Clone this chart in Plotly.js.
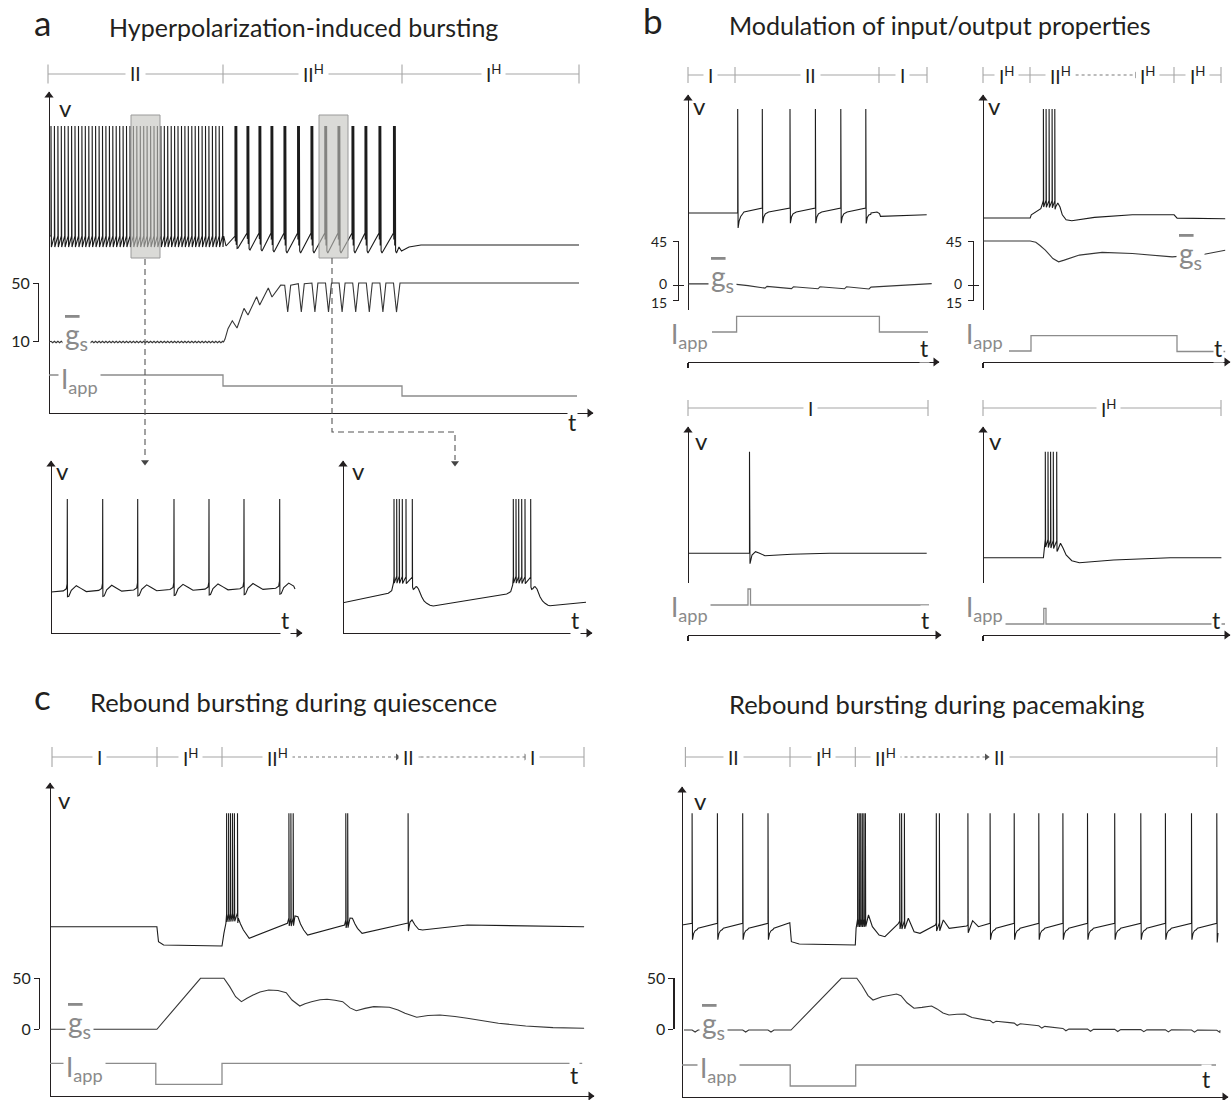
<!DOCTYPE html>
<html>
<head>
<meta charset="utf-8">
<script src="https://cdn.plot.ly/plotly-3.0.1.min.js"></script>
<style>html,body{margin:0;padding:0;background:#fff;} #chart{width:1231px;height:1100px;}</style>
</head>
<body>
<div id="chart"></div>
<script>
// ================= DATA =================
// time: arbitrary units from each panel's origin; V and I_app: arbitrary units; g_s: conductance units

// ---- panel a, main trace ----
const aSpikesII = [2.0,5.4,8.9,12.3,15.7,19.2,22.6,26.0,29.5,32.9,36.3,39.8,43.2,46.6,50.1,53.5,56.9,60.4,63.8,67.2,70.7,74.1,77.5,81.0,84.4,87.8,91.3,94.7,98.1,101.6,105.0,108.4,111.9,115.3,118.7,122.2,125.6,129.0,132.5,135.9,139.3,142.8,146.2,149.6,153.1,156.5,159.9,163.4,166.8,170.2,173.6];
const aBurstSpikes = [186,186.9,187.8,198,198.9,199.8,210,210.9,211.8,222,222.9,223.8,235,235.9,236.8,248.6,249.5,250.4,262,262.9,263.8,275.8,276.7,277.6,289,289.9,290.8,303,303.9,304.8,316,316.9,317.8,330,330.9,331.8,344.5,345.4,346.3];
const aVBaseIIT = [0,174.7];
const aVBaseIIV = [177,177];
const aVBaseT = [174.7,177,186,189,198,201,210,213,222,225,235,238,248.6,251.6,262,265,275.8,278.8,289,292,303,306,316,319,330,333,344.5,347.5,350,352.5,360,372,530];
const aVBaseV = [177,167,177,165,180,163,180,162,180,161,180,160,180,160,180,160,180,160,180,160,180,160,180,160,180,160,180,160,166,162,166,168,168];
const aVPeak = 287;
const aGRippleT = [0,174.6];
const aGRippleV = [10,10];
const aGT = [174.6,176,179,183.3,188,195,199,207.6,210.7,219.3,223,231.7,235.7,238.7,241.7,249.3,252.3,255.3,262.9,265.9,268.9,276.5,279.5,282.5,290.1,293.1,296.1,303.7,306.7,309.7,317.3,320.3,323.3,330.9,333.9,336.9,344.5,347.5,351,530];
const aGV = [10,12,19,24.4,19.5,32.8,28.3,40.7,35.1,46.6,40.5,48.6,48.5,30.3,48.5,49.5,30.3,49.5,50,30.3,50,50,30.3,50,50,30.3,50,50,30.3,50,50,30.3,50,50,30.3,50,50,30.3,50,50];
const aIappT = [0,174,353,528];
const aIappV = [38,27,17];
const aRegimeBounds = [-1,174,353,530];
const aRegimeLabelT = [86,264,444.5];
const aRegimeLabels = ['II','II<sup>H</sup>','I<sup>H</sup>'];

// ---- panel a, zoomed insets ----
const alSpikes = [16.3,51.7,86.7,123,158,193,228.7];
const alBaseT = [0,244];
const alBaseV = [41,44];
const alPeak = 134;
const arSpikes = [51,53.7,56.3,59.3,63,69.3,170.3,173,175.7,178.7,182,187.7];
const arBaseT = [0,45.3,48.7,50.5,51,69.3,70.3,71.5,72.5,73.7,75.5,78.7,81,83.7,87,90.3,163.7,167.7,169.7,170.3,187.7,188.7,190,191,192,194,197,199.5,202,205,207,243];
const arBaseV = [30.3,39.7,42.3,50,57,56,43.7,44.5,46,46.3,44,36.3,32,29.7,27.8,27,39,41.3,48,57,56,43.7,44.5,46,46.3,44,36.3,32,29.7,27.8,27.3,30.7];
const arPeak = 134;

// ---- panel b ----
const b1Spikes = [49.7,74.3,102,127.4,152.8,177.8];
const b1VBaseT = [0,49.7,56,74.3,80.6,102,108.3,127.4,133.7,152.8,159.1,177.8,183,189,191.5,192.5,238.7];
const b1VBaseV = [149,149,150,154,150,154,150,154,150,154,150,154,149,150,148.5,145.6,147.2];
const b1GT = [0,44,60,77,79,103.5,105.5,130,132,156.5,158.5,181,183,200,243.7];
const b1GV = [1.8,1.8,0,-2.5,-0.8,-3,-1.2,-3.2,-1.2,-3.2,-1.2,-3.4,-1.5,-0.5,2];
const b1IappT = [24,48.6,191.4,240];
const b1IappV = [30,45.6,30];
const b1RegimeBounds = [0,47,191,239];
const b1RegimeLabelT = [22.8,122.5,214.5];
const b1RegimeLabels = ['I','II','I'];

const b2Spikes = [60.4,63.1,66.1,69.1,71.8];
const b2VBaseT = [0,47.2,48.3,57.8,59.7,60.4,71.8,72.9,74.8,77,79.3,83.1,88.8,111.5,149.4,191.1,194.1,242.2];
const b2VBaseV = [144,144,147.2,153.3,159,162,161,155.6,159,155,147.2,142.2,141.2,144.6,147.2,147.2,143.9,143.2];
const b2GT = [0,47.2,52.8,57,62.3,69.9,75.6,81.2,96.4,119.1,149.4,189.2,221.4,242.2];
const b2GV = [45,45,43.7,40.5,35.9,27.3,24,25.7,30.8,33.5,32.4,29,31.6,35.6];
const b2IappT = [26,48,194,242.2];
const b2IappV = [11,26.4,10.5];
const b2RegimeBounds = [0,47,191,238];
const b2RegimeLabelT = [24,77.5,164.6,214.6];
const b2RegimeLabels = ['I<sup>H</sup>','II<sup>H</sup>','I<sup>H</sup>','I<sup>H</sup>'];
const b2RegimeDotted = [[92.6,155]];

const b3Spikes = [61.5];
const b3VBaseT = [0,61.5,64,67.5,71,77,103.5,141.4,238.7];
const b3VBaseV = [81.7,81.7,80,83.3,82,79.3,80.7,81.7,81.7];
const b3IappT = [20,60,62.5,241];
const b3IappV = [30,46,30];
const b3RegimeBounds = [0,240];
const b3RegimeLabelT = [122.5];
const b3RegimeLabels = ['I'];

const b4Spikes = [62.3,65,67.6,70.3,73.7];
const b4VBaseT = [0,60.4,61.5,62.3,73.7,74.8,77.5,80,83.1,88.8,96.4,130.5,187.3,238.4];
const b4VBaseV = [77.3,77.3,88,96,94,85,91.7,87,80,74.3,72.3,75,77.3,77.3];
const b4IappT = [20,60.8,63,242];
const b4IappV = [11,26.7,11];
const b4RegimeBounds = [0,238];
const b4RegimeLabelT = [125.6];
const b4RegimeLabels = ['I<sup>H</sup>'];
const bTopPeak = 253;
const bBottomPeak = 183.3;

// ---- panel c ----
const c1Spikes = [176.6,178.6,180.5,182.5,184.4,187.5,238.9,240.9,243.2,295.8,297.7,358.1];
const c1VBaseT = [0,106.9,108.5,113.6,172,173.9,175.9,176.6,187.5,188.3,190.5,193.4,199.2,237.4,238.9,243.2,245,247.9,250.5,253.7,257.6,294.6,295.8,297.7,300,302.4,305,307.5,312.1,356.9,358.1,360,362,365,368.6,372.5,417.3,534.1];
const c1VBaseV = [169.3,169.3,154.3,151,150,162.7,172.7,182,183,177.7,172,166,157.7,172.7,178,178,180,179.3,172,166,161,171,176,176,178,177.7,172,167.7,162.7,172.7,172.7,174,176,171,166.7,166,171,169.3];
const c1GT = [0,106.9,150.5,173.9,179.7,185.6,191.4,197,203.1,210,218.7,228,236.2,242,249.8,255,261.5,270,277.1,285,292.7,300,306.3,315,323.8,339.4,348,355,366.7,378,390,405,417.3,448.4,475.7,503,534.1];
const c1GV = [0,0,50,50,41.8,32,27.1,30.5,33.6,36.5,38.5,38,35.9,28.7,22.8,25,27.1,29,29.4,28.5,27.1,21,18.2,20.5,22.2,21.6,19,15.7,11.8,13.5,14,12.5,10.8,5.9,3.3,1.6,1];
const c1IappT = [0,105.8,172,532.2];
const c1IappV = [32.7,11.7,32.7];
const c1RegimeBounds = [2,107,172,534];
const c1RegimeLabelT = [49.3,140.2,227,358.6,482.7];
const c1RegimeLabels = ['I','I<sup>H</sup>','II<sup>H</sup>','II','I'];
const c1RegimeDotted = [[242,349],[370.5,477.6]];
const c1Peak = 282.7;

const c2PaceSpikes = [10.1,35.4,60.7,86,308.1,332.2,356.8,380.9,405.5,432.7,458.8,483.4,509.5,534.8];
const c2BurstSpikes = [175.6,177.2,178.7,180.3,181.9,183.4,217.7,219.6,222.4,254.3,257.4,285.9];
const c2VBaseT = [0,10.1,16,35.4,41.3,60.7,66.6,86,91.9,107.8,109.4,117.2,173.3,174.1,175.6,183.4,186.5,190.4,197.1,202.9,216.5,217.7,222.4,226.3,232.1,238,253.5,254.3,257.4,261.3,267.2,284.7,285.9,290.6,296.4,308.1,314,332.2,338.1,356.8,362.7,380.9,386.8,405.5,411.4,432.7,438.6,458.8,464.7,483.4,489.3,509.5,515.4,534.8,536];
const c2VBaseV = [172,173.7,168.7,173.7,168.7,173.7,168.7,173.7,168.7,174.3,155.3,153,152,168.7,178,178,182,170.3,162,160.3,173.7,176,176,178.7,165.3,163.7,172,174,174,177,168.7,171,172,176.3,170.3,173.7,168.7,173.7,168.7,173.7,168.7,173.7,168.7,173.7,168.7,173.7,168.7,173.7,168.7,173.7,168.7,173.7,168.7,173.7,164];
const c2GT = [2,109,159.3,174.8,180,186,191,200,214.6,219,225,232,240,249.6,255,261,267,275,282.8,290,304,327.6,358.7,386,538];
const c2GV = [-0.7,-0.7,50,50,43,33,28.7,32,34.6,33,26,20.6,21.5,22.8,20,16,14,14.8,15,11.5,9,6.5,3.3,0.3,-1];
const c2IappT = [0,108.2,173.7,534];
const c2IappV = [32,11,32];
const c2RegimeBounds = [3.4,108,173.3,534.8];
const c2RegimeLabelT = [51.8,141.5,203,317.8];
const c2RegimeLabels = ['II','I<sup>H</sup>','II<sup>H</sup>','II'];
const c2RegimeDotted = [[216.5,306]];
const c2Peak = 283.7;

// ---- spike waveform shapes (offset in time, offset from baseline; 'P' = spike peak) ----
const shapeDense = [[0,0],[0,'P'],[0.4,-11]];
const shapeBurstA = [[0,0],[0,'P'],[0.3,-4]];
const shapeInsetL = [[-4,1],[-1,3],[-0.2,8],[0,'P'],[0.2,-5],[1.5,-4.5],[4,1.5],[9,6],[14,3],[19,0]];
const shapeBurst7 = [[0,0],[0,'P'],[0.25,-7]];
const shapePace = [[0,0],[0,'P'],[0.4,-15],[1.5,-8],[3,-4],[5,-1.5]];
const shapePaceC = [[0,0],[0,'P'],[0.4,-16],[1.5,-9],[3,-5],[5,-2]];
const shapeSingleB = [[0,0],[0,'P'],[0.5,-10]];
const shapeBurst8 = [[0,0],[0,'P'],[0.3,-8]];
const shapeGRippleA = [[0,0.5],[1.7,-0.5]];
const shapeGRippleC = [[0,0],[3,-2],[6,0]];

// ================= HELPERS =================
const W = 1231, H = 1100;
const fx = p => p / W, fy = p => 1 - p / H;
const AX = '#231f20', VC = '#1c1c1c', GCOL = '#363636', ICOL = '#8c8c8c', BARC = '#a6a6a6', LBL = '#8a8a8a';
const FONT = 'Lato, "Open Sans", sans-serif';

function interp(bt, bv, t) {
  const n = bt.length;
  if (t <= bt[0]) return bv[0];
  if (t >= bt[n - 1]) return bv[n - 1];
  for (let i = 1; i < n; i++) {
    if (t <= bt[i]) { const f = (t - bt[i - 1]) / (bt[i] - bt[i - 1]); return bv[i - 1] + f * (bv[i] - bv[i - 1]); }
  }
  return bv[n - 1];
}
function buildTrace(bt, bv, groups, peak) {
  const t0 = bt[0], t1 = bt[bt.length - 1];
  const pts = [], wins = [];
  groups.forEach(([times, tpl]) => {
    const dmin = tpl[0][0], dmax = tpl[tpl.length - 1][0];
    times.forEach(s => {
      wins.push([s + dmin, s + dmax]);
      tpl.forEach(([dt, dv], k) => {
        const t = s + dt;
        if (t < t0 || t > t1) return;
        pts.push([t, dv === 'P' ? peak : interp(bt, bv, t) + dv, s, k]);
      });
    });
  });
  bt.forEach((t, i) => {
    if (i > 0 && i < bt.length - 1 && wins.some(w => t >= w[0] && t <= w[1])) return;
    pts.push([t, bv[i], t, -1]);
  });
  pts.sort((a, b) => (a[0] - b[0]) || (a[2] - b[2]) || (a[3] - b[3]));
  return { x: pts.map(p => p[0]), y: pts.map(p => p[1]) };
}
function concatTr(a, b) { return { x: a.x.concat(b.x), y: a.y.concat(b.y) }; }
function steps(ts, vs) {
  const x = [], y = [];
  for (let i = 0; i < vs.length; i++) { x.push(ts[i], ts[i + 1]); y.push(vs[i], vs[i]); }
  return { x, y };
}

const layout = {
  width: W, height: H, margin: { l: 0, r: 0, t: 0, b: 0 },
  paper_bgcolor: '#ffffff', plot_bgcolor: 'rgba(0,0,0,0)', showlegend: false, hovermode: false,
  font: { family: FONT, color: AX, size: 14 }, annotations: [], shapes: []
};
const data = [];
let nX = 0, nY = 0;
const axBase = { showgrid: false, zeroline: false, showticklabels: false, ticks: '', fixedrange: true };
function addX(cfg) { nX++; const k = nX === 1 ? 'xaxis' : 'xaxis' + nX; layout[k] = Object.assign({}, axBase, cfg); return nX === 1 ? 'x' : 'x' + nX; }
function addY(cfg) { nY++; const k = nY === 1 ? 'yaxis' : 'yaxis' + nY; layout[k] = Object.assign({}, axBase, cfg); return nY === 1 ? 'y' : 'y' + nY; }
function addLine(tr, xa, ya, color, width, dash) {
  data.push({ type: 'scatter', mode: 'lines', x: tr.x, y: tr.y, xaxis: xa, yaxis: ya,
    line: { color: color, width: width, dash: dash || 'solid', simplify: false }, hoverinfo: 'skip', showlegend: false });
}
function dummy(xa, ya) { data.push({ type: 'scatter', mode: 'lines', x: [0], y: [null], xaxis: xa, yaxis: ya, hoverinfo: 'skip', showlegend: false }); }
function tri(xa, ya, x, y, symbol, size, color) {
  data.push({ type: 'scatter', mode: 'markers', x: [x], y: [y], xaxis: xa, yaxis: ya, cliponaxis: false,
    marker: { symbol: symbol, size: size, color: color || AX, line: { width: 0 } }, hoverinfo: 'skip', showlegend: false });
}
function label(px, py, text, size, color, extra) {
  layout.annotations.push(Object.assign({ xref: 'paper', yref: 'paper', x: fx(px), y: fy(py), text: text, showarrow: false,
    font: { family: FONT, size: size, color: color || AX }, xanchor: 'center', yanchor: 'middle' }, extra || {}));
}

function makePanel(g) {
  const P = { g: g };
  const xc = { domain: [fx(g.x0), fx(g.xTip)], range: [0, g.xTip - g.x0], anchor: 'free', position: fy(g.bottom),
    showline: true, linecolor: AX, linewidth: 1.2 };
  if (g.leftTick) Object.assign(xc, { ticks: 'outside', tickmode: 'array', tickvals: [0], ticklen: 5, tickwidth: 1.2, tickcolor: AX });
  P.x = addX(xc);
  const wl = Math.max(0, g.x0 - 20), wr = Math.min(W, g.xTip + 5);
  P.xw = addX({ domain: [fx(wl), fx(wr)], range: [wl - g.x0, wr - g.x0], anchor: 'free', position: fy(g.bottom), visible: false });
  P.v = addY({ domain: [fy(g.vBottom), fy(g.vTop)], range: [g.bottom - g.vBottom, g.bottom - g.vTop], anchor: 'free',
    position: fx(g.x0), showline: true, linecolor: AX, linewidth: 1.2 });
  if (g.iTop) P.i = addY({ domain: [fy(g.bottom), fy(g.iTop)], range: [0, g.bottom - g.iTop], anchor: 'free', position: fx(g.x0), visible: false });
  // arrow heads at the axis ends
  tri(P.x, P.v, 0, g.bottom - g.vTop - 3.5, 'triangle-up', 8);
  tri(P.x, P.i || P.v, g.xTip - g.x0 - 3.5, 0, 'triangle-right', 8);
  if (g.bracket) {
    const b = g.bracket;
    const k = (b.py[0] - b.py[1]) / (b.v[1] - b.v[0]);
    const vAt = py => b.v[0] + (b.py[0] - py) / k;
    P.gAx = addY({ domain: [fy(g.gDom[0]), fy(g.gDom[1])], range: [vAt(g.gDom[0]), vAt(g.gDom[1])], anchor: 'free', position: fx(g.x0), visible: false });
    const eps = (b.v[1] - b.v[0]) * 0.002;
    const common = { domain: [fy(b.py[0]), fy(b.py[1])], range: [b.v[0] - eps, b.v[1] + eps], anchor: 'free', position: fx(b.px),
      tickmode: 'array', tickvals: b.ticks, ticklen: 5, tickwidth: 1.2, tickcolor: AX };
    const own = !b.textPos;
    P.br = addY(Object.assign({}, common, { showline: true, linecolor: AX, linewidth: 1.2, ticks: 'outside', ticktext: b.text,
      showticklabels: own, tickfont: { family: FONT, size: b.font, color: AX } }));
    P.br2 = addY(Object.assign({}, common, { ticks: 'inside' }));
    dummy(P.x, P.br); dummy(P.x, P.br2);
    if (!own) {
      // closely spaced scale labels are set as separate texts so they do not collide
      b.text.forEach((t, i) => label(b.px - 9, b.textPos[i], t, b.font, AX, { xanchor: 'right' }));
    }
  }
  if (g.bar) P.bar = addY({ domain: [fy(g.bar + 13), fy(g.bar - 13)], range: [-13, 13], anchor: 'free', position: fx(g.x0), visible: false });
  return P;
}

function drawRegime(P, bounds, labelT, labels, dotted) {
  const h = P.g.tickH;
  const s = bounds[0], e = bounds[bounds.length - 1];
  let pieces = [[s, e]];
  (dotted || []).forEach(([d0, d1]) => {
    pieces = pieces.flatMap(([p0, p1]) => (d1 <= p0 || d0 >= p1) ? [[p0, p1]] : [[p0, d0], [d1, p1]].filter(q => q[1] > q[0]));
  });
  const sx = [], sy = [];
  pieces.forEach(([p0, p1]) => { sx.push(p0, p1, null); sy.push(0, 0, null); });
  bounds.forEach(b => { sx.push(b, b, null); sy.push(-h, h, null); });
  addLine({ x: sx, y: sy }, P.xw, P.bar, BARC, 1.1);
  if (dotted && dotted.length) {
    const dx = [], dy = [];
    dotted.forEach(([d0, d1]) => { dx.push(d0, d1 - 2, null); dy.push(0, 0, null); });
    addLine({ x: dx, y: dy }, P.xw, P.bar, '#7a7a7a', 1.1, 'dot');
    dotted.forEach(([d0, d1]) => tri(P.xw, P.bar, d1 - 1.5, 0, 'triangle-right', 6, '#555'));
  }
  labels.forEach((t, i) => {
    layout.annotations.push({ xref: P.xw, yref: P.bar, x: labelT[i], y: 0, text: t, showarrow: false, bgcolor: '#ffffff', borderpad: 4,
      font: { family: FONT, size: 19, color: AX }, xanchor: 'center', yanchor: 'middle' });
  });
}

// ================= PANELS =================
const GEOM = {
  A:  { x0: 49, xTip: 593, bottom: 413, vTop: 92, vBottom: 413, iTop: 355, gDom: [365, 270],
        bracket: { px: 38, v: [10, 50], py: [342, 283], ticks: [10, 50], text: ['10', '50'], font: 16 }, bar: 74, tickH: 9.5 },
  AL: { x0: 51, xTip: 302, bottom: 633, vTop: 461, vBottom: 633 },
  AR: { x0: 343, xTip: 592, bottom: 633, vTop: 461, vBottom: 633 },
  B1: { x0: 688, xTip: 939, bottom: 362, vTop: 95, vBottom: 310, iTop: 312, gDom: [309, 220],
        bracket: { px: 678, v: [-15, 45], py: [300.5, 241], ticks: [-15, 0, 45], text: ['15', '0', '45'], font: 14, textPos: [303, 283.5, 241] },
        bar: 75, tickH: 8, leftTick: true },
  B2: { x0: 983, xTip: 1230, bottom: 362, vTop: 95, vBottom: 310, iTop: 312, gDom: [309, 220],
        bracket: { px: 973, v: [-15, 45], py: [300.5, 241], ticks: [-15, 0, 45], text: ['15', '0', '45'], font: 14, textPos: [303, 283.5, 241] },
        bar: 75, tickH: 8, leftTick: true },
  B3: { x0: 688, xTip: 941, bottom: 635, vTop: 427, vBottom: 583, iTop: 585, bar: 408, tickH: 8, leftTick: true },
  B4: { x0: 983, xTip: 1230, bottom: 635, vTop: 427, vBottom: 583, iTop: 585, bar: 408, tickH: 8, leftTick: true },
  C1: { x0: 50, xTip: 594, bottom: 1096, vTop: 783, vBottom: 1096, iTop: 1040, gDom: [1045, 960],
        bracket: { px: 39, v: [0, 50], py: [1029.3, 978.3], ticks: [0, 50], text: ['0', '50'], font: 16 }, bar: 757, tickH: 10 },
  C2: { x0: 682, xTip: 1228, bottom: 1097, vTop: 787, vBottom: 1097, iTop: 1040, gDom: [1045, 960],
        bracket: { px: 673.4, v: [0, 50], py: [1029.3, 978.3], ticks: [0, 50], text: ['0', '50'], font: 16 }, bar: 757, tickH: 10 }
};

// Panel a main
const A = makePanel(GEOM.A);
addLine(concatTr(buildTrace(aVBaseIIT, aVBaseIIV, [[aSpikesII, shapeDense]], aVPeak),
                 buildTrace(aVBaseT, aVBaseV, [[aBurstSpikes, shapeBurstA]], aVPeak)), A.x, A.v, VC, 1.1);
addLine(concatTr(buildTrace(aGRippleT, aGRippleV, [[aSpikesII, shapeGRippleA]], 0),
                 buildTrace(aGT, aGV, [], 0)), A.x, A.gAx, GCOL, 1.1);
addLine(steps(aIappT, aIappV), A.x, A.i, ICOL, 1.3);
drawRegime(A, aRegimeBounds, aRegimeLabelT, aRegimeLabels);

// insets
const AL = makePanel(GEOM.AL);
addLine(buildTrace(alBaseT, alBaseV, [[alSpikes, shapeInsetL]], alPeak), AL.x, AL.v, VC, 1.1);
const AR = makePanel(GEOM.AR);
addLine(buildTrace(arBaseT, arBaseV, [[arSpikes, shapeBurst7]], arPeak), AR.x, AR.v, VC, 1.1);

// Panel b
const B1 = makePanel(GEOM.B1);
addLine(buildTrace(b1VBaseT, b1VBaseV, [[b1Spikes, shapePace]], bTopPeak), B1.x, B1.v, VC, 1.1);
addLine(buildTrace(b1GT, b1GV, [], 0), B1.x, B1.gAx, GCOL, 1.1);
addLine(steps(b1IappT, b1IappV), B1.x, B1.i, ICOL, 1.3);
drawRegime(B1, b1RegimeBounds, b1RegimeLabelT, b1RegimeLabels);

const B2 = makePanel(GEOM.B2);
addLine(buildTrace(b2VBaseT, b2VBaseV, [[b2Spikes, shapeBurst7]], bTopPeak), B2.x, B2.v, VC, 1.1);
addLine(buildTrace(b2GT, b2GV, [], 0), B2.x, B2.gAx, GCOL, 1.1);
addLine(steps(b2IappT, b2IappV), B2.x, B2.i, ICOL, 1.3);
drawRegime(B2, b2RegimeBounds, b2RegimeLabelT, b2RegimeLabels, b2RegimeDotted);

const B3 = makePanel(GEOM.B3);
addLine(buildTrace(b3VBaseT, b3VBaseV, [[b3Spikes, shapeSingleB]], bBottomPeak), B3.x, B3.v, VC, 1.1);
addLine(steps(b3IappT, b3IappV), B3.x, B3.i, ICOL, 1.3);
drawRegime(B3, b3RegimeBounds, b3RegimeLabelT, b3RegimeLabels);

const B4 = makePanel(GEOM.B4);
addLine(buildTrace(b4VBaseT, b4VBaseV, [[b4Spikes, shapeBurst8]], bBottomPeak), B4.x, B4.v, VC, 1.1);
addLine(steps(b4IappT, b4IappV), B4.x, B4.i, ICOL, 1.3);
drawRegime(B4, b4RegimeBounds, b4RegimeLabelT, b4RegimeLabels);

// Panel c
const C1 = makePanel(GEOM.C1);
addLine(buildTrace(c1VBaseT, c1VBaseV, [[c1Spikes, shapeBurst8]], c1Peak), C1.x, C1.v, VC, 1.1);
addLine(buildTrace(c1GT, c1GV, [], 0), C1.x, C1.gAx, GCOL, 1.1);
addLine(steps(c1IappT, c1IappV), C1.x, C1.i, ICOL, 1.3);
drawRegime(C1, c1RegimeBounds, c1RegimeLabelT, c1RegimeLabels, c1RegimeDotted);

const C2 = makePanel(GEOM.C2);
addLine(buildTrace(c2VBaseT, c2VBaseV, [[c2PaceSpikes, shapePaceC], [c2BurstSpikes, shapeBurst8]], c2Peak), C2.x, C2.v, VC, 1.1);
addLine(buildTrace(c2GT, c2GV, [[c2PaceSpikes, shapeGRippleC]], 0), C2.x, C2.gAx, GCOL, 1.1);
addLine(steps(c2IappT, c2IappV), C2.x, C2.i, ICOL, 1.3);
drawRegime(C2, c2RegimeBounds, c2RegimeLabelT, c2RegimeLabels, c2RegimeDotted);

// ================= DECORATION =================
// zoom windows in panel a
[[82, 111], [270, 299]].forEach(([t0, t1]) => {
  layout.shapes.push({ type: 'rect', xref: A.x, yref: A.v, x0: t0, x1: t1, y0: 155, y1: 298, layer: 'above',
    fillcolor: 'rgba(196,196,190,0.62)', line: { color: '#9a9a9a', width: 1 } });
});
const PP = (px, py) => fx(px).toFixed(5) + ',' + fy(py).toFixed(5);
layout.shapes.push({ type: 'path', xref: 'paper', yref: 'paper', path: 'M' + PP(145, 259) + 'L' + PP(145, 459),
  line: { color: '#555', width: 1.1, dash: '6px,4px' } });
layout.shapes.push({ type: 'path', xref: 'paper', yref: 'paper', path: 'M' + PP(332, 258) + 'L' + PP(332, 432) + 'L' + PP(455, 432) + 'L' + PP(455, 460),
  line: { color: '#555', width: 1.1, dash: '6px,4px' } });
// connector arrow heads (placed in the inset axes' coordinates)
tri(AL.x, AL.v, 145 - GEOM.AL.x0, GEOM.AL.bottom - 462, 'triangle-down', 7, '#444');
tri(AR.x, AR.v, 455 - GEOM.AR.x0, GEOM.AR.bottom - 463, 'triangle-down', 7, '#444');

// panel letters and titles
label(42, 22, 'a', 35);
label(303, 27, 'Hyperpolarization-induced bursting', 25);
label(653, 20, 'b', 35);
label(940, 25, 'Modulation of input/output properties', 25);
label(42, 696, 'c', 35);
label(293, 702, 'Rebound bursting during quiescence', 25.5);
label(937, 704, 'Rebound bursting during pacemaking', 25.5);

// v and t labels
[[65, 107], [62, 470], [358, 470], [699, 106], [994, 106], [701, 440], [995, 440], [64, 799], [700, 800]]
  .forEach(([x, y]) => label(x, y, 'v', 24));
[[572, 422], [285, 620], [575, 620], [924, 348], [1218, 348], [925, 620], [1216, 620], [574, 1075], [1206, 1079]]
  .forEach(([x, y]) => label(x, y, 't', 23, AX, { bgcolor: '#ffffff', borderpad: 0 }));

// g_s labels
const gText = '<span style="text-decoration:overline">g</span><sub>s</sub>';
[[76, 336], [722, 278], [1190, 255], [80, 1024], [714, 1025]]
  .forEach(([x, y]) => label(x, y, gText, 28, LBL, { bgcolor: '#ffffff', borderpad: 2 }));
// I_app labels
const iText = 'I<sub>app</sub>';
[[80, 380], [690, 335], [984, 335], [690, 608], [984, 608], [84, 1068], [718, 1069]]
  .forEach(([x, y]) => label(x, y, iText, 26, LBL, { bgcolor: '#ffffff', borderpad: 2 }));

Plotly.newPlot('chart', data, layout, { staticPlot: true, displayModeBar: false });
</script>
</body>
</html>
